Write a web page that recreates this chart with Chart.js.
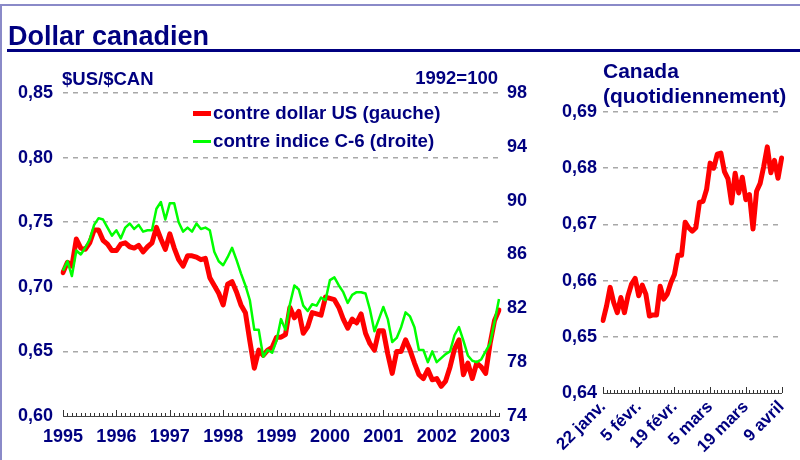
<!DOCTYPE html>
<html>
<head>
<meta charset="utf-8">
<script src="https://cdn.jsdelivr.net/npm/chart.js"></script>
<style>
  html, body { margin:0; padding:0; background:#fff; width:800px; height:460px; overflow:hidden; }
  body { position:relative; font-family:"Liberation Sans", Arial, sans-serif; }
  .t { position:absolute; color:#000080; font-weight:bold; line-height:1; white-space:nowrap; }
  canvas { position:absolute; top:0; }
</style>
</head>
<body>
<div style="position:absolute;left:0;top:4px;width:820px;height:480px;border:2px solid #8a8ac8;box-sizing:border-box;"></div>
<canvas id="left" width="540" height="460" style="left:0"></canvas>
<canvas id="right" width="260" height="460" style="left:540px"></canvas>

<div class="t" style="left:8px;top:23px;font-size:27px;">Dollar canadien</div>
<div style="position:absolute;left:7px;top:49px;width:793px;height:3px;background:#000080;"></div>
<div class="t" style="left:62px;top:70px;font-size:18.5px;">$US/$CAN</div>
<div class="t" style="left:398px;width:100px;text-align:right;top:69px;font-size:18.5px;">1992=100</div>
<div class="t" style="left:603px;top:60px;font-size:21px;">Canada</div>
<div class="t" style="left:603px;top:85px;font-size:21px;">(quotidiennement)</div>

<div style="position:absolute;left:193px;top:111px;width:18px;height:5px;background:#ff0000;"></div>
<div class="t" style="left:213px;top:104px;font-size:18.7px;">contre dollar US (gauche)</div>
<div style="position:absolute;left:193px;top:140px;width:18px;height:2.5px;background:#00ff00;"></div>
<div class="t" style="left:213px;top:132px;font-size:18.7px;">contre indice C-6 (droite)</div>

<script>
// ---------- data ----------
const years = ['1995','1996','1997','1998','1999','2000','2001','2002','2003'];

// Monthly, Jan 1995 - Mar 2003, US$ per C$ (left axis)
const usdPerCad = [
0.711,0.719,0.716,0.737,0.730,0.729,0.734,0.744,0.744,0.736,
0.733,0.728,0.728,0.733,0.734,0.731,0.730,0.732,0.727,0.731,
0.734,0.746,0.737,0.729,0.741,0.730,0.721,0.716,0.724,0.724,
0.723,0.721,0.722,0.707,0.701,0.695,0.686,0.702,0.704,0.696,
0.686,0.680,0.658,0.637,0.651,0.647,0.651,0.653,0.661,0.661,
0.663,0.684,0.676,0.681,0.664,0.669,0.680,0.679,0.678,0.692,
0.691,0.690,0.684,0.675,0.668,0.675,0.672,0.679,0.664,0.656,
0.651,0.666,0.666,0.648,0.633,0.650,0.650,0.659,0.651,0.641,
0.632,0.629,0.636,0.628,0.629,0.623,0.627,0.638,0.652,0.659,
0.632,0.641,0.629,0.641,0.638,0.633,0.656,0.674,0.682
];

// Monthly, C-6 index 1992=100 (right axis)
const c6Index = [
84.8,85.5,84.4,86.3,86.0,86.5,87.1,88.2,88.7,88.6,
88.0,87.4,87.8,87.2,88.0,88.3,87.9,88.2,87.7,87.8,
87.8,89.4,89.9,88.6,89.8,89.8,88.4,87.7,88.0,87.7,
88.3,87.9,88.0,87.8,86.2,85.5,85.2,85.8,86.5,85.6,
84.6,83.7,82.6,80.4,80.4,78.4,78.9,78.7,79.6,81.2,
80.4,82.3,83.7,83.4,82.2,81.8,82.3,82.2,82.8,82.6,
84.1,84.3,83.7,83.2,82.4,83.0,83.2,83.2,83.1,81.9,
80.3,81.2,82.1,81.2,79.5,79.8,80.6,81.7,81.4,80.6,
78.9,78.9,78.0,78.8,78.0,78.3,78.6,78.8,80.0,80.6,
79.6,78.5,78.1,78.0,78.2,78.8,79.4,81.0,82.7
];

// Daily, 22 Jan - 9 Apr 2003
const dailyTickLabels = ['22 janv.','5 févr.','19 févr.','5 mars','19 mars','9 avril'];
const dailyUsd = [
0.6529,0.6555,0.6588,0.6561,0.6543,0.6570,0.6543,0.6573,0.6594,0.6604,
0.6573,0.6592,0.6576,0.6537,0.6539,0.6539,0.6590,0.6567,0.6576,0.6596,
0.6611,0.6645,0.6645,0.6704,0.6694,0.6688,0.6694,0.6739,0.6741,0.6762,
0.6809,0.6800,0.6825,0.6827,0.6794,0.6781,0.6738,0.6791,0.6756,0.6784,
0.6744,0.6753,0.6692,0.6759,0.6773,0.6803,0.6838,0.6792,0.6814,0.6782,0.6818
];

// ---------- derived labels ----------
const monthLabels = usdPerCad.map((_, i) => i % 12 === 0 ? years[i / 12] : '');
const dailyLabels = dailyUsd.map((_, i) => i % 10 === 0 ? dailyTickLabels[i / 10] : '');

const NAVY = '#000080';
const GRID = '#a8a8a8';
Chart.defaults.font.family = '"Liberation Sans", Arial, sans-serif';
Chart.defaults.font.weight = 'bold';
Chart.defaults.color = NAVY;

const fmt = v => Number(v).toFixed(2).replace('.', ',');

function minorTicks(majorEvery) {
  return {
    id: 'minorTicks' + majorEvery,
    afterDraw(chart) {
      const xs = chart.scales.x, ctx = chart.ctx, b = chart.chartArea.bottom;
      ctx.save();
      ctx.strokeStyle = '#333';
      ctx.lineWidth = 1;
      const n = chart.data.labels.length;
      for (let i = 0; i < n; i++) {
        const x = Math.round(xs.getPixelForValue(i)) + 0.5;
        const len = i % majorEvery === 0 ? 6 : 3;
        ctx.beginPath(); ctx.moveTo(x, b); ctx.lineTo(x, b - len); ctx.stroke();
      }
      ctx.restore();
    }
  };
}

new Chart(document.getElementById('left'), {
  type: 'line',
  data: {
    labels: monthLabels,
    datasets: [
      { label: 'contre indice C-6 (droite)', data: c6Index, yAxisID: 'y1', borderColor: '#00ff00',
        borderWidth: 2.5, pointRadius: 0, tension: 0, order: 0, borderJoinStyle: 'round' },
      { label: 'contre dollar US (gauche)', data: usdPerCad, yAxisID: 'y', borderColor: '#ff0000',
        borderWidth: 5, pointRadius: 0, tension: 0, order: 1, borderJoinStyle: 'round', borderCapStyle: 'round' }
    ]
  },
  options: {
    responsive: false, animation: false,
    layout: { padding: { top: 93, left: 0, right: 0, bottom: 0 } },
    plugins: { legend: { display: false }, tooltip: { enabled: false } },
    scales: {
      x: {
        type: 'category', offset: false,
        grid: { display: false, drawTicks: false },
        border: { display: true, color: '#444', width: 1 },
        ticks: { autoSkip: false, maxRotation: 0, minRotation: 0, padding: 10, font: { size: 18, weight: 'bold' } },
        afterFit(s) { s.height = 44; }
      },
      y: {
        position: 'left', min: 0.60, max: 0.85,
        ticks: { stepSize: 0.05, callback: fmt, padding: 10, font: { size: 18, weight: 'bold' } },
        grid: { drawTicks: false, lineWidth: 1.5,
                color: c => (c.tick && Math.abs(c.tick.value - 0.60) < 1e-6) ? 'rgba(0,0,0,0)' : GRID },
        border: { display: false, dash: [5, 5] },
        afterFit(s) { s.width = 63; }
      },
      y1: {
        position: 'right', min: 74, max: 98,
        ticks: { stepSize: 4, padding: 8, font: { size: 18, weight: 'bold' } },
        grid: { display: false, drawTicks: false },
        border: { display: false },
        afterFit(s) { s.width = 41; }
      }
    }
  },
  plugins: [minorTicks(12)]
});

new Chart(document.getElementById('right'), {
  type: 'line',
  data: {
    labels: dailyLabels,
    datasets: [
      { label: 'Canada', data: dailyUsd, borderColor: '#ff0000', borderWidth: 5, pointRadius: 0,
        tension: 0, borderJoinStyle: 'round', borderCapStyle: 'round' }
    ]
  },
  options: {
    responsive: false, animation: false,
    layout: { padding: { top: 112, left: 0, right: 14, bottom: 0 } },
    plugins: { legend: { display: false }, tooltip: { enabled: false } },
    scales: {
      x: {
        type: 'category', offset: false,
        grid: { display: false, drawTicks: false },
        border: { display: true, color: '#444', width: 1 },
        ticks: { autoSkip: false, maxRotation: 45, minRotation: 45, padding: 4, font: { size: 17, weight: 'bold' } },
        afterFit(s) { s.height = 67; }
      },
      y: {
        position: 'left', min: 0.64, max: 0.69,
        ticks: { stepSize: 0.01, callback: fmt, padding: 6, font: { size: 18, weight: 'bold' } },
        grid: { drawTicks: false, lineWidth: 1.5,
                color: c => (c.tick && Math.abs(c.tick.value - 0.64) < 1e-6) ? 'rgba(0,0,0,0)' : GRID },
        border: { display: false, dash: [5, 5] },
        afterFit(s) { s.width = 63; }
      }
    }
  },
  plugins: [minorTicks(10)]
});
</script>
</body>
</html>
